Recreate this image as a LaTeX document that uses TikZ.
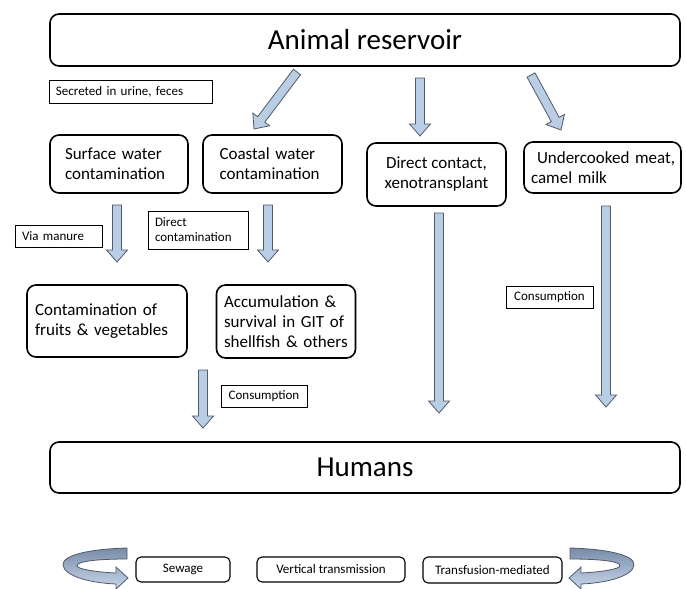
\documentclass[tikz,border=0pt]{standalone}
\usepackage{fontspec}
\setmainfont{Carlito}
\usetikzlibrary{calc}
\definecolor{arrowfill}{RGB}{185,205,228}
\definecolor{arrowline}{RGB}{80,90,105}
\definecolor{ribbontop}{RGB}{120,140,168}
\definecolor{ribbonbot}{RGB}{200,215,235}
\tikzset{
  bigbox/.style={draw, line width=1.6pt, rounded corners=9pt, inner sep=0pt, align=left},
  label/.style={draw, line width=0.8pt, inner sep=0pt, align=left, font=\fontsize{13}{15}\selectfont},
  botbox/.style={draw, line width=1.1pt, rounded corners=5pt, inner sep=0pt, align=center, font=\fontsize{13}{15}\selectfont},
  barrow/.style={fill=arrowfill, draw=arrowline, line width=0.8pt, line join=miter},
  ribbon/.style={top color=ribbontop, bottom color=ribbonbot, draw=arrowline, line width=0.8pt},
  boxfont/.style={font=\fontsize{17}{20}\selectfont}
}
\newcommand{\blockarrow}[2]{%
  \coordinate (#1-h) at ($(#2)!12pt!(#1)$);
  \path[barrow] ($(#1)!4.5pt!90:(#2)$) -- ($(#1-h)!4.5pt!-90:(#1)$) -- ($(#1-h)!10.5pt!-90:(#1)$)
    -- (#2) -- ($(#1-h)!10.5pt!90:(#1)$) -- ($(#1-h)!4.5pt!90:(#1)$) -- ($(#1)!4.5pt!-90:(#2)$) -- cycle;}
\newcommand{\ribbonshape}{%
  \path[ribbon] (127,548) .. controls (90,549) and (62,555) .. (63,565)
    .. controls (64,576) and (90,583) .. (116,584)
    -- (116,589) -- (128,578) -- (116,567) -- (116,573)
    .. controls (95,572) and (78,569) .. (77,566)
    .. controls (76,561) and (100,559) .. (127,559) -- cycle;}
\begin{document}
\begin{tikzpicture}[x=1pt,y=-1pt]
\useasboundingbox (0,0) rectangle (686,589);
% main boxes
\node[bigbox, minimum width=630pt, minimum height=52pt, font=\fontsize{29}{34}\selectfont] (animal) at (365,40) {Animal reservoir};
\node[label, minimum width=163pt, minimum height=23pt, text width=149pt] (secreted) at (130.5,91.5) {Secreted in urine, feces};
\node[bigbox, boxfont, minimum width=138pt, minimum height=58pt, text width=108pt] (surface) at (119,164) {Surface water\\contamination};
\node[bigbox, boxfont, minimum width=139pt, minimum height=58pt, text width=106pt] (coastal) at (272.5,164) {Coastal water\\contamination};
\node[bigbox, boxfont, align=center, minimum width=139pt, minimum height=63pt] (direct) at (436.5,174.5) {Direct contact,\\xenotransplant};
\node[bigbox, boxfont, minimum width=157pt, minimum height=51pt, text width=143pt] (meat) at (602.5,167.5) {\mbox{\hspace{6pt}Undercooked meat,}\\\mbox{camel milk}};
\node[label, minimum width=87pt, minimum height=22pt, text width=73pt] (manure) at (58.5,236) {Via manure};
\node[label, minimum width=100pt, minimum height=38pt, text width=86pt] (dircont) at (198,230) {Direct\\contamination};
\node[bigbox, boxfont, minimum width=160pt, minimum height=72pt, text width=144pt] (fruits) at (107,321) {\mbox{Contamination of}\\\mbox{fruits \& vegetables}};
\node[bigbox, boxfont, minimum width=139pt, minimum height=73pt, text width=124pt] (accum) at (286,321.5) {\mbox{Accumulation \&}\\\mbox{survival in GIT of}\\\mbox{shellfish \& others}};
\node[label, minimum width=86pt, minimum height=22pt, align=center] (cons1) at (264,396) {Consumption};
\node[label, minimum width=87pt, minimum height=22pt, align=center] (cons2) at (549.5,297) {Consumption};
\node[bigbox, minimum width=630pt, minimum height=51pt, align=center, font=\fontsize{29}{34}\selectfont] (humans) at (365,467.5) {Humans};
\node[botbox, minimum width=94pt, minimum height=25pt] (sewage) at (183,569.5) {Sewage};
\node[botbox, minimum width=148pt, minimum height=25pt] (vertical) at (331,569.5) {Vertical transmission};
\node[botbox, minimum width=139pt, minimum height=26pt] (transf) at (492.5,570) {Transfusion-mediated};
% arrow end points
\coordinate (a1) at (297,72);  \coordinate (b1) at (254,129);
\coordinate (a2) at (420,78);  \coordinate (b2) at (420,136);
\coordinate (a3) at (531,75);  \coordinate (b3) at (561,130);
\coordinate (a4) at (117,205); \coordinate (b4) at (117,262);
\coordinate (a5) at (268,205); \coordinate (b5) at (268,262);
\coordinate (a6) at (203,370); \coordinate (b6) at (203,428);
\coordinate (a7) at (439,213); \coordinate (b7) at (439,413);
\coordinate (a8) at (606,206); \coordinate (b8) at (606,407);
\blockarrow{a1}{b1}
\blockarrow{a2}{b2}
\blockarrow{a3}{b3}
\blockarrow{a4}{b4}
\blockarrow{a5}{b5}
\blockarrow{a6}{b6}
\blockarrow{a7}{b7}
\blockarrow{a8}{b8}
% curved ribbons
\ribbonshape
\begin{scope}[shift={(697,0)}, xscale=-1]
\ribbonshape
\end{scope}
\end{tikzpicture}
\end{document}
